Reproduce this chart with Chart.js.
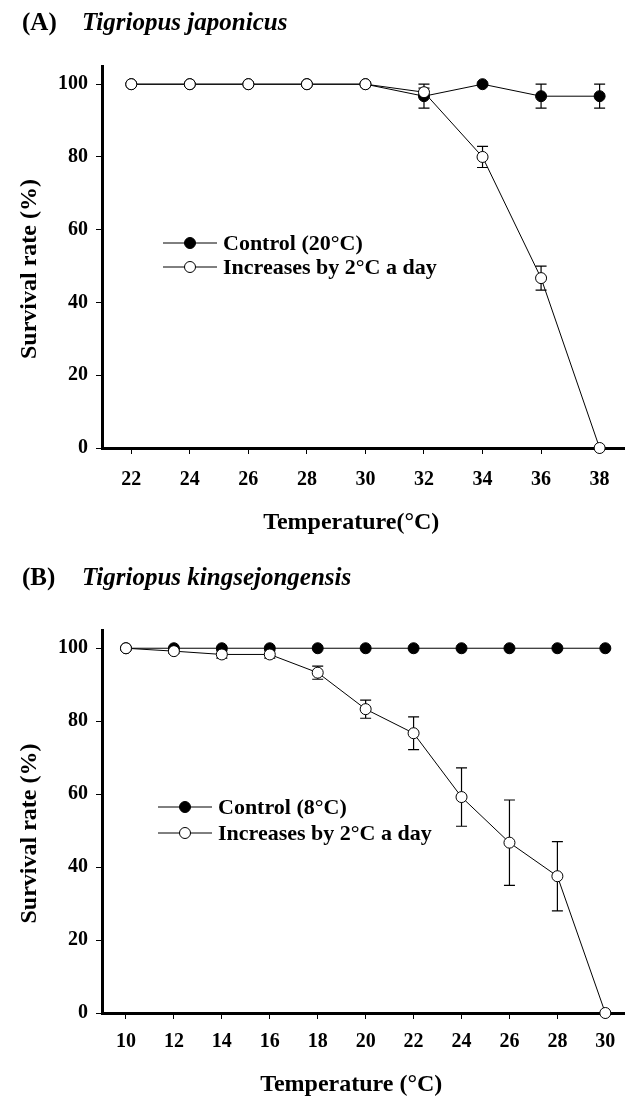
<!DOCTYPE html>
<html>
<head>
<meta charset="utf-8">
<script src="https://cdn.jsdelivr.net/npm/chart.js@4.4.0/dist/chart.umd.min.js"></script>
<style>
  body { margin: 0; background: #fff; width: 631px; height: 1100px; overflow: hidden; }
  .panel { position: absolute; left: 0; width: 631px; }
  #boxA { top: 0; height: 555px; }
  #boxB { top: 555px; height: 545px; }
</style>
</head>
<body>
<div class="panel" id="boxA"><canvas id="chartA"></canvas></div>
<div class="panel" id="boxB"><canvas id="chartB"></canvas></div>
<script>
// (A) Tigriopus japonicus
const tempsA = [22, 24, 26, 28, 30, 32, 34, 36, 38];
const controlA = [100, 100, 100, 100, 100, 96.7, 100, 96.7, 96.7];
const controlErrA = [0, 0, 0, 0, 0, 3.3, 0, 3.3, 3.3];
const increaseA = [100, 100, 100, 100, 100, 97.8, 80, 46.7, 0];
const increaseErrA = [0, 0, 0, 0, 0, 1.1, 2.9, 3.3, 0];

// (B) Tigriopus kingsejongensis
const tempsB = [10, 12, 14, 16, 18, 20, 22, 24, 26, 28, 30];
const controlB = [100, 100, 100, 100, 100, 100, 100, 100, 100, 100, 100];
const controlErrB = [0, 0, 0, 0, 0, 0, 0, 0, 0, 0, 0];
const increaseB = [100, 99.2, 98.3, 98.3, 93.3, 83.3, 76.7, 59.2, 46.7, 37.5, 0];
const increaseErrB = [0, 0.6, 1, 1, 1.8, 2.5, 4.5, 8, 11.7, 9.5, 0];

const yTicks = [0, 20, 40, 60, 80, 100];

Chart.defaults.font.family = "'Liberation Serif', 'Times New Roman', serif";
Chart.defaults.font.weight = "bold";
Chart.defaults.color = "#000";

//error bars drawn under the markers
const errorBars = {
  id: "errorBars",
  beforeDatasetsDraw(chart) {
    const ctx = chart.ctx;
    const xs = chart.scales.x, ys = chart.scales.y;
    ctx.save();
    ctx.strokeStyle = "#000";
    ctx.lineWidth = 1.2;
    chart.data.datasets.forEach((ds) => {
      ds.data.forEach((p, i) => {
        const e = ds.errors[i];
        if (!e) return;
        const x = xs.getPixelForValue(p.x);
        const y1 = ys.getPixelForValue(p.y + e);
        const y2 = ys.getPixelForValue(p.y - e);
        ctx.beginPath();
        ctx.moveTo(x, y1); ctx.lineTo(x, y2);
        ctx.moveTo(x - 5.5, y1); ctx.lineTo(x + 5.5, y1);
        ctx.moveTo(x - 5.5, y2); ctx.lineTo(x + 5.5, y2);
        ctx.stroke();
      });
    });
    ctx.restore();
  },
};

//legend inside the plot: line with marker, then label
const panelLegend = {
  id: "panelLegend",
  afterDatasetsDraw(chart, args, opts) {
    const ctx = chart.ctx;
    const items = chart.data.datasets.slice().reverse();
    ctx.save();
    ctx.font = "bold 22px 'Liberation Serif', serif";
    ctx.textBaseline = "middle";
    items.forEach((ds, i) => {
      const y = opts.y + i * opts.gap;
      ctx.strokeStyle = "#000";
      ctx.lineWidth = 1;
      ctx.beginPath();
      ctx.moveTo(opts.x, y);
      ctx.lineTo(opts.x + 54, y);
      ctx.stroke();
      ctx.beginPath();
      ctx.arc(opts.x + 27, y, 5.5, 0, Math.PI * 2);
      ctx.fillStyle = ds.pointBackgroundColor;
      ctx.fill();
      ctx.stroke();
      ctx.fillStyle = "#000";
      ctx.fillText(ds.label, opts.x + 60, y + 1);
    });
    ctx.restore();
  },
};

//panel heading: "(A)" upright + species name in italic
const panelTitle = {
  id: "panelTitle",
  afterDraw(chart, args, opts) {
    const ctx = chart.ctx;
    ctx.save();
    ctx.fillStyle = "#000";
    ctx.textBaseline = "middle";
    ctx.font = "bold 25px 'Liberation Serif', serif";
    ctx.fillText(opts.tag, 22, opts.y);
    ctx.font = "italic bold 25px 'Liberation Serif', serif";
    ctx.fillText(opts.name, 82, opts.y);
    ctx.restore();
  },
};

function makeChart(id, temps, control, controlErr, increase, increaseErr, cfg) {
  return new Chart(document.getElementById(id), {
    type: "line",
    plugins: [errorBars, panelLegend, panelTitle],
    data: {
      datasets: [
        {
          label: "Increases by 2°C a day",
          data: temps.map((t, i) => ({ x: t, y: increase[i] })),
          errors: increaseErr,
          borderColor: "#000",
          borderWidth: 1,
          pointRadius: 5.5,
          pointBorderWidth: 1,
          pointBorderColor: "#000",
          pointBackgroundColor: "#fff",
          clip: false,
        },
        {
          label: cfg.controlLabel,
          data: temps.map((t, i) => ({ x: t, y: control[i] })),
          errors: controlErr,
          borderColor: "#000",
          borderWidth: 1,
          pointRadius: 5.5,
          pointBorderWidth: 1,
          pointBorderColor: "#000",
          pointBackgroundColor: "#000",
          clip: false,
        },
      ],
    },
    options: {
      responsive: true,
      maintainAspectRatio: false,
      animation: false,
      layout: { padding: { top: cfg.top, right: 1, bottom: cfg.bottom, left: 0 } },
      plugins: {
        legend: { display: false },
        tooltip: { enabled: false },
        panelLegend: cfg.legend,
        panelTitle: cfg.title,
      },
      scales: {
        x: {
          type: "linear",
          min: cfg.xMin,
          max: cfg.xMax,
          afterBuildTicks: (axis) => { axis.ticks = temps.map((v) => ({ value: v })); },
          afterFit: (scale) => { scale.height = cfg.xHeight; },
          ticks: { font: { size: 20, weight: "bold" }, padding: cfg.tickPad, maxRotation: 0 },
          grid: { drawOnChartArea: false, drawTicks: true, tickLength: 6, color: "#000", lineWidth: 1 },
          border: { display: true, color: "#000", width: 3 },
          title: {
            display: true,
            // trailing em space nudges the title left like the original
            text: cfg.xTitle + "\u2003",
            font: { size: 24, weight: "bold", lineHeight: 1 },
            padding: { top: 0, bottom: 3 },
          },
        },
        y: {
          min: 0,
          max: 105,
          afterBuildTicks: (axis) => { axis.ticks = yTicks.map((v) => ({ value: v })); },
          afterFit: (scale) => { scale.width = 102; },
          ticks: { font: { size: 20, weight: "bold" }, padding: 8 },
          grid: { drawOnChartArea: false, drawTicks: true, tickLength: 6, color: "#000", lineWidth: 1 },
          border: { display: true, color: "#000", width: 3 },
          title: {
            display: true,
            text: "Survival rate (%)\u2003",
            font: { size: 24, weight: "bold", lineHeight: 1 },
            padding: { top: 18, bottom: 0 },
          },
        },
      },
    },
  });
}

makeChart("chartA", tempsA, controlA, controlErrA, increaseA, increaseErrA, {
  controlLabel: "Control (20°C)",
  xMin: 21, xMax: 38.85,
  top: 66, bottom: 17, xHeight: 90, tickPad: 14,
  xTitle: "Temperature(°C)",
  legend: { x: 163, y: 243, gap: 24 },
  title: { tag: "(A)", name: "Tigriopus japonicus", y: 24 },
});

makeChart("chartB", tempsB, controlB, controlErrB, increaseB, increaseErrB, {
  controlLabel: "Control (8°C)",
  xMin: 9, xMax: 30.8,
  top: 75, bottom: 0, xHeight: 87, tickPad: 11,
  xTitle: "Temperature (°C)",
  legend: { x: 158, y: 252, gap: 26 },
  title: { tag: "(B)", name: "Tigriopus kingsejongensis", y: 24 },
});
</script>
</body>
</html>
